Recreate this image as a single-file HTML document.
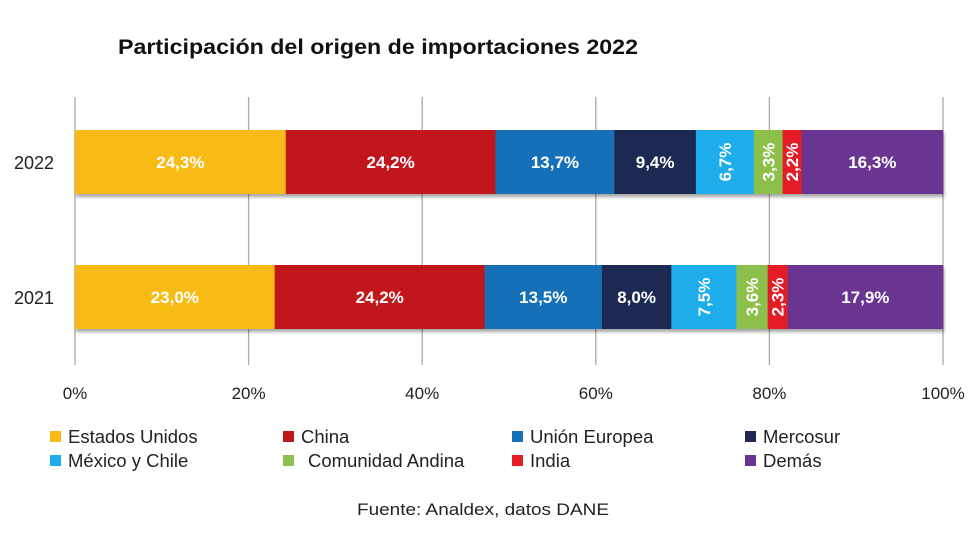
<!DOCTYPE html>
<html><head><meta charset="utf-8"><style>
body{margin:0;background:#fff;font-family:"Liberation Sans","DejaVu Sans",sans-serif}
</style></head><body>
<svg id="c" width="980" height="537" xmlns="http://www.w3.org/2000/svg">
<defs><filter id="sh" x="-5%" y="-20%" width="110%" height="150%"><feDropShadow dx="1" dy="3" stdDeviation="1.5" flood-color="#000" flood-opacity="0.35"/></filter></defs>
<text x="118" y="54" font-size="21" font-weight="bold" fill="#111" textLength="520" lengthAdjust="spacingAndGlyphs">Participación del origen de importaciones 2022</text>
<g id="grid"></g><g id="bars"></g><g id="legend"></g>
<text x="483" y="515" font-size="17" fill="#222" text-anchor="middle" textLength="252" lengthAdjust="spacingAndGlyphs">Fuente: Analdex, datos DANE</text>
</svg>
<script>
const years=["2022","2021"];
const series=["Estados Unidos","China","Unión Europea","Mercosur","México y Chile","Comunidad Andina","India","Demás"];
const v2022=[24.3,24.2,13.7,9.4,6.7,3.3,2.2,16.3];
const v2021=[23.0,24.2,13.5,8.0,7.5,3.6,2.3,17.9];
const ticks=[0,20,40,60,80,100];
const colors=["#f8bb16","#c0191b","#1670b7","#1f2953","#1fadea","#8dc04c","#e31e25","#693591"];
const vals=[v2022,v2021];
const ns="http://www.w3.org/2000/svg";
const x0=75,x1=943;
const xs=p=>x0+(x1-x0)*p/100;
const barY=[130,265],barH=64;
function mk(t,a,p){const e=document.createElementNS(ns,t);for(const k in a)e.setAttribute(k,a[k]);p.appendChild(e);return e;}
const grid=document.getElementById('grid');
ticks.forEach(t=>{
 const l=mk('line',{x1:xs(t),x2:xs(t),y1:97,y2:365,stroke:'#aaa','stroke-width':1.3},grid);
 
 
 const tx=mk('text',{x:xs(t),y:399,'font-size':17,fill:'#222','text-anchor':'middle'},grid);
 tx.textContent=t+'%';
 
 
});
const bars=document.getElementById('bars');
vals.forEach((arr,r)=>{
 const tot=arr.reduce((a,b)=>a+b,0);
 const g=mk('g',{filter:'url(#sh)'},bars);
 
 
 let c=0;
 const yl=mk('text',{x:14,y:barY[r]+barH/2+7,'font-size':18,fill:'#222'},bars);
 yl.textContent=years[r];
 
 
 arr.forEach((v,i)=>{
  const a=xs(c*100/tot),b=xs((c+v)*100/tot);c+=v;
  const rc=mk('rect',{x:a,y:barY[r],width:b-a+0.3,height:barH,fill:colors[i]},g);
  
  
  const lab=v.toFixed(1).replace('.',',')+'%';
  const cx=(a+b)/2,cy=barY[r]+barH/2;
  const vert=v<7.8;
  const t=mk('text',{x:cx,y:cy+6,'font-size':17,'font-weight':'bold',fill:'#fff','text-anchor':'middle'},bars);
  if(vert)t.setAttribute('transform','rotate(-90 '+cx+' '+cy+')');
  t.textContent=lab;
  
  
 });
});
const leg=document.getElementById('legend');
const lx=[50,283,512,745],ly=[437,461];
series.forEach((s,i)=>{
 const col=i%4,row=Math.floor(i/4);
 const g=mk('g',{},leg);
 
 
 mk('rect',{x:lx[col],y:ly[row]-6,width:11,height:11,fill:colors[i]},g);
 const t=mk('text',{x:lx[col]+(i==5?25:18),y:ly[row]+6,'font-size':18.5,fill:'#222'},g);
 t.textContent=s;
});
</script>
</body></html>
